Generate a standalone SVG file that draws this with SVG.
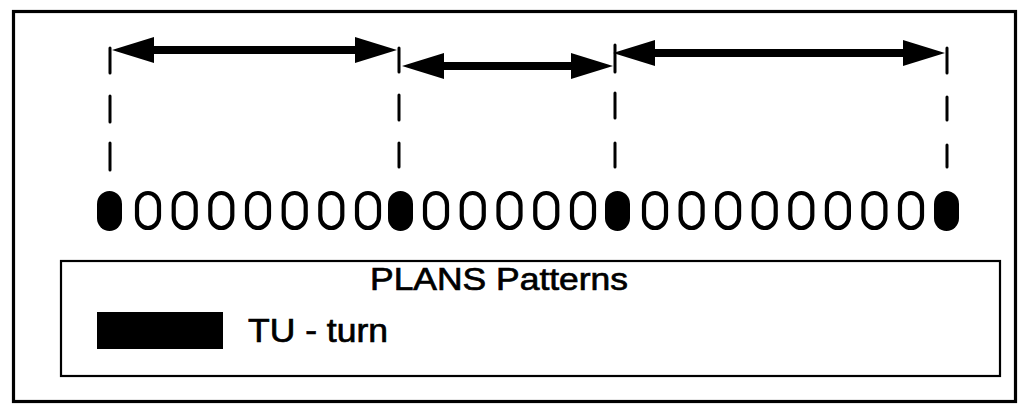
<svg xmlns="http://www.w3.org/2000/svg" width="1023" height="404" viewBox="0 0 1023 404">
  <style>
    .frame { fill: none; stroke: #000; stroke-width: 3.2; }
    .legend-box { fill: none; stroke: #000; stroke-width: 2.2; }
    .shaft { fill: none; stroke: #000; stroke-width: 8; marker-start: url(#head); marker-end: url(#head); }
    .guide { fill: none; stroke: #000; stroke-width: 3; stroke-linecap: round; }
    .open { fill: #fff; stroke: #000; stroke-width: 4.2; }
    .turn { fill: #000; }
    .label { font-family: "Liberation Sans", Arial, Helvetica, sans-serif; fill: #000; stroke: #000; stroke-width: 0.7; }
  </style>
  <defs>
    <marker id="head" viewBox="0 0 42 26" refX="22" refY="13" markerWidth="42" markerHeight="26" markerUnits="userSpaceOnUse" orient="auto-start-reverse">
      <path d="M0,0 L42,13 L0,26 Z" fill="#000"/>
    </marker>
    <rect id="o" x="0" y="0" width="22" height="35" rx="11" ry="12" class="open"/>
    <rect id="f" x="0" y="0" width="25" height="40" rx="12.5" ry="13" class="turn"/>
  </defs>

  <rect width="1023" height="404" fill="#fff"/>
  <rect class="frame" x="13.5" y="11.5" width="1002" height="390"/>

  <!-- span arrows and their dashed boundary guides -->
  <g id="connectors">
    <path class="guide" d="M110,48 V73 M110,96 V122 M110,143 V170"/>
    <path class="guide" d="M399,48 V72 M399,95 V120 M399,143 V167"/>
    <path class="guide" d="M615,45 V72 M615,93 V118 M615,143 V167"/>
    <path class="guide" d="M947,48 V73 M947,97 V120 M947,145 V167"/>
    <line class="shaft" x1="132" y1="50" x2="377" y2="50"/>
    <line class="shaft" x1="422" y1="66" x2="593" y2="66"/>
    <line class="shaft" x1="633" y1="53" x2="925" y2="53"/>
  </g>

  <!-- pattern row: turns (filled) separating runs of open elements -->
  <g id="turn-1"><use href="#f" x="97" y="191"/></g>
  <g id="run-1">
    <use href="#o" x="137" y="193"/>
    <use href="#o" x="173.7" y="193"/>
    <use href="#o" x="210.3" y="193"/>
    <use href="#o" x="247" y="193"/>
    <use href="#o" x="283.7" y="193"/>
    <use href="#o" x="320.3" y="193"/>
    <use href="#o" x="357" y="193"/>
  </g>
  <g id="turn-2"><use href="#f" x="388" y="191"/></g>
  <g id="run-2">
    <use href="#o" x="425" y="193"/>
    <use href="#o" x="461.75" y="193"/>
    <use href="#o" x="498.5" y="193"/>
    <use href="#o" x="535.25" y="193"/>
    <use href="#o" x="572" y="193"/>
  </g>
  <g id="turn-3"><use href="#f" x="605" y="191"/></g>
  <g id="run-3">
    <use href="#o" x="644" y="193"/>
    <use href="#o" x="680.6" y="193"/>
    <use href="#o" x="717.1" y="193"/>
    <use href="#o" x="753.7" y="193"/>
    <use href="#o" x="790.3" y="193"/>
    <use href="#o" x="826.9" y="193"/>
    <use href="#o" x="863.4" y="193"/>
    <use href="#o" x="900" y="193"/>
  </g>
  <g id="turn-4"><use href="#f" x="934" y="191"/></g>

  <!-- legend -->
  <g id="legend">
    <rect class="legend-box" x="61" y="261" width="939" height="115"/>
    <text class="label" x="370" y="290" font-size="32" textLength="258" lengthAdjust="spacingAndGlyphs">PLANS Patterns</text>
    <rect x="97" y="312" width="126" height="37" fill="#000"/>
    <text class="label" x="248" y="342" font-size="33" textLength="140" lengthAdjust="spacingAndGlyphs">TU - turn</text>
  </g>
</svg>
